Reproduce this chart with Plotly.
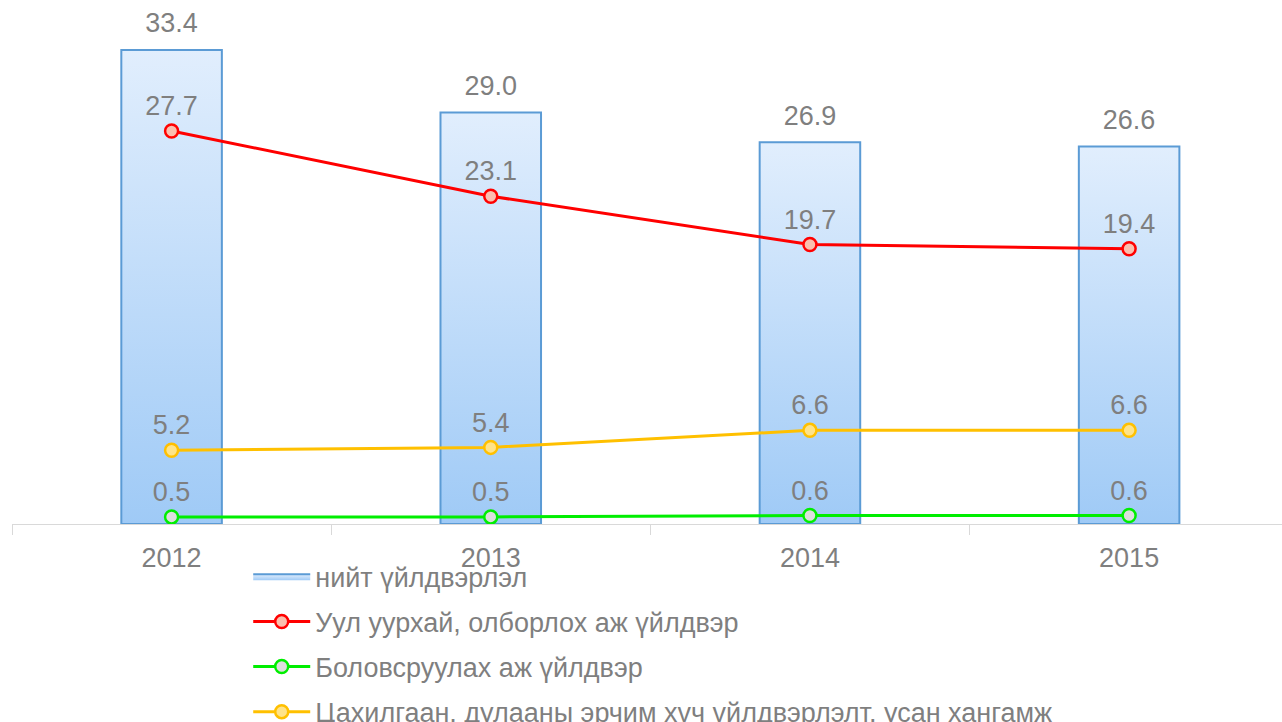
import plotly.graph_objects as go

years = ['2012', '2013', '2014', '2015']
total = [33.4, 29.0, 26.9, 26.6]
mining = [27.7, 23.1, 19.7, 19.4]
manufacturing = [0.5, 0.5, 0.6, 0.6]
electricity = [5.2, 5.4, 6.6, 6.6]

names = ['нийт үйлдвэрлэл',
         'Уул уурхай, олборлох аж үйлдвэр',
         'Боловсруулах аж үйлдвэр',
         'Цахилгаан, дулааны эрчим хүч үйлдвэрлэлт, усан хангамж']

FONT = 'Liberation Sans, Arial, sans-serif'
GRAY = '#7f7f7f'
FS = 27
bar_w = 0.315
pos = list(range(len(years)))

fig = go.Figure()

# bars drawn as filled shapes so they can carry a vertical gradient
for i, (p, v) in enumerate(zip(pos, total)):
    fig.add_trace(go.Scatter(
        x=[p - bar_w / 2, p + bar_w / 2, p + bar_w / 2, p - bar_w / 2, p - bar_w / 2],
        y=[0, 0, v, v, 0],
        mode='lines', fill='toself',
        line=dict(color='#5b9bd5', width=2),
        fillgradient=dict(type='vertical',
                          colorscale=[[0, '#9fcaf6'], [1, '#e1eefd']]),
        name=names[0], legendgroup='total', showlegend=(i == 0),
        hoverinfo='skip'))

fig.add_trace(go.Scatter(
    x=pos, y=total, mode='markers+text',
    marker=dict(size=16, opacity=0),
    text=[f'{v:.1f}' for v in total], textposition='top center',
    textfont=dict(size=FS, color=GRAY, family=FONT),
    showlegend=False, hoverinfo='skip'))

lines = [
    (names[1], mining, '#ff0000', '#fbbfae'),
    (names[2], manufacturing, '#00ee00', '#dedede'),
    (names[3], electricity, '#ffc000', '#ffe389'),
]
for name, vals, col, fillc in lines:
    fig.add_trace(go.Scatter(
        x=pos, y=vals, mode='lines+markers+text', name=name,
        line=dict(color=col, width=3),
        marker=dict(size=13, color=fillc, line=dict(color=col, width=2.5)),
        text=[f'{v:.1f}' for v in vals], textposition='top center',
        textfont=dict(size=FS, color=GRAY, family=FONT),
        legendgroup=name))

fig.update_layout(
    width=1282, height=722,
    margin=dict(l=12, r=0, t=0, b=198, autoexpand=False),
    paper_bgcolor='white', plot_bgcolor='white',
    font=dict(family=FONT, color=GRAY, size=FS),
    xaxis=dict(range=[-0.5, 3.479], tickvals=pos, ticktext=years,
               showgrid=False, zeroline=False, ticks='',
               showline=True, linecolor='#d9d9d9', linewidth=1,
               ticklabelstandoff=10, automargin=False,
               tickfont=dict(size=FS, color=GRAY, family=FONT),
               minor=dict(tickvals=[-0.5, 0.5, 1.5, 2.5], ticks='outside',
                          ticklen=10, tickcolor='#d9d9d9', showgrid=False)),
    yaxis=dict(range=[0, 36.93], visible=False, automargin=False),
    legend=dict(x=0.186, y=-0.054, xanchor='left', yanchor='top',
                itemwidth=57,
                font=dict(size=FS, color=GRAY, family=FONT),
                tracegroupgap=7, bgcolor='rgba(0,0,0,0)'),
)

fig.write_html('out.html', config={'displayModeBar': False},
               post_script="document.body.style.margin='0';")
